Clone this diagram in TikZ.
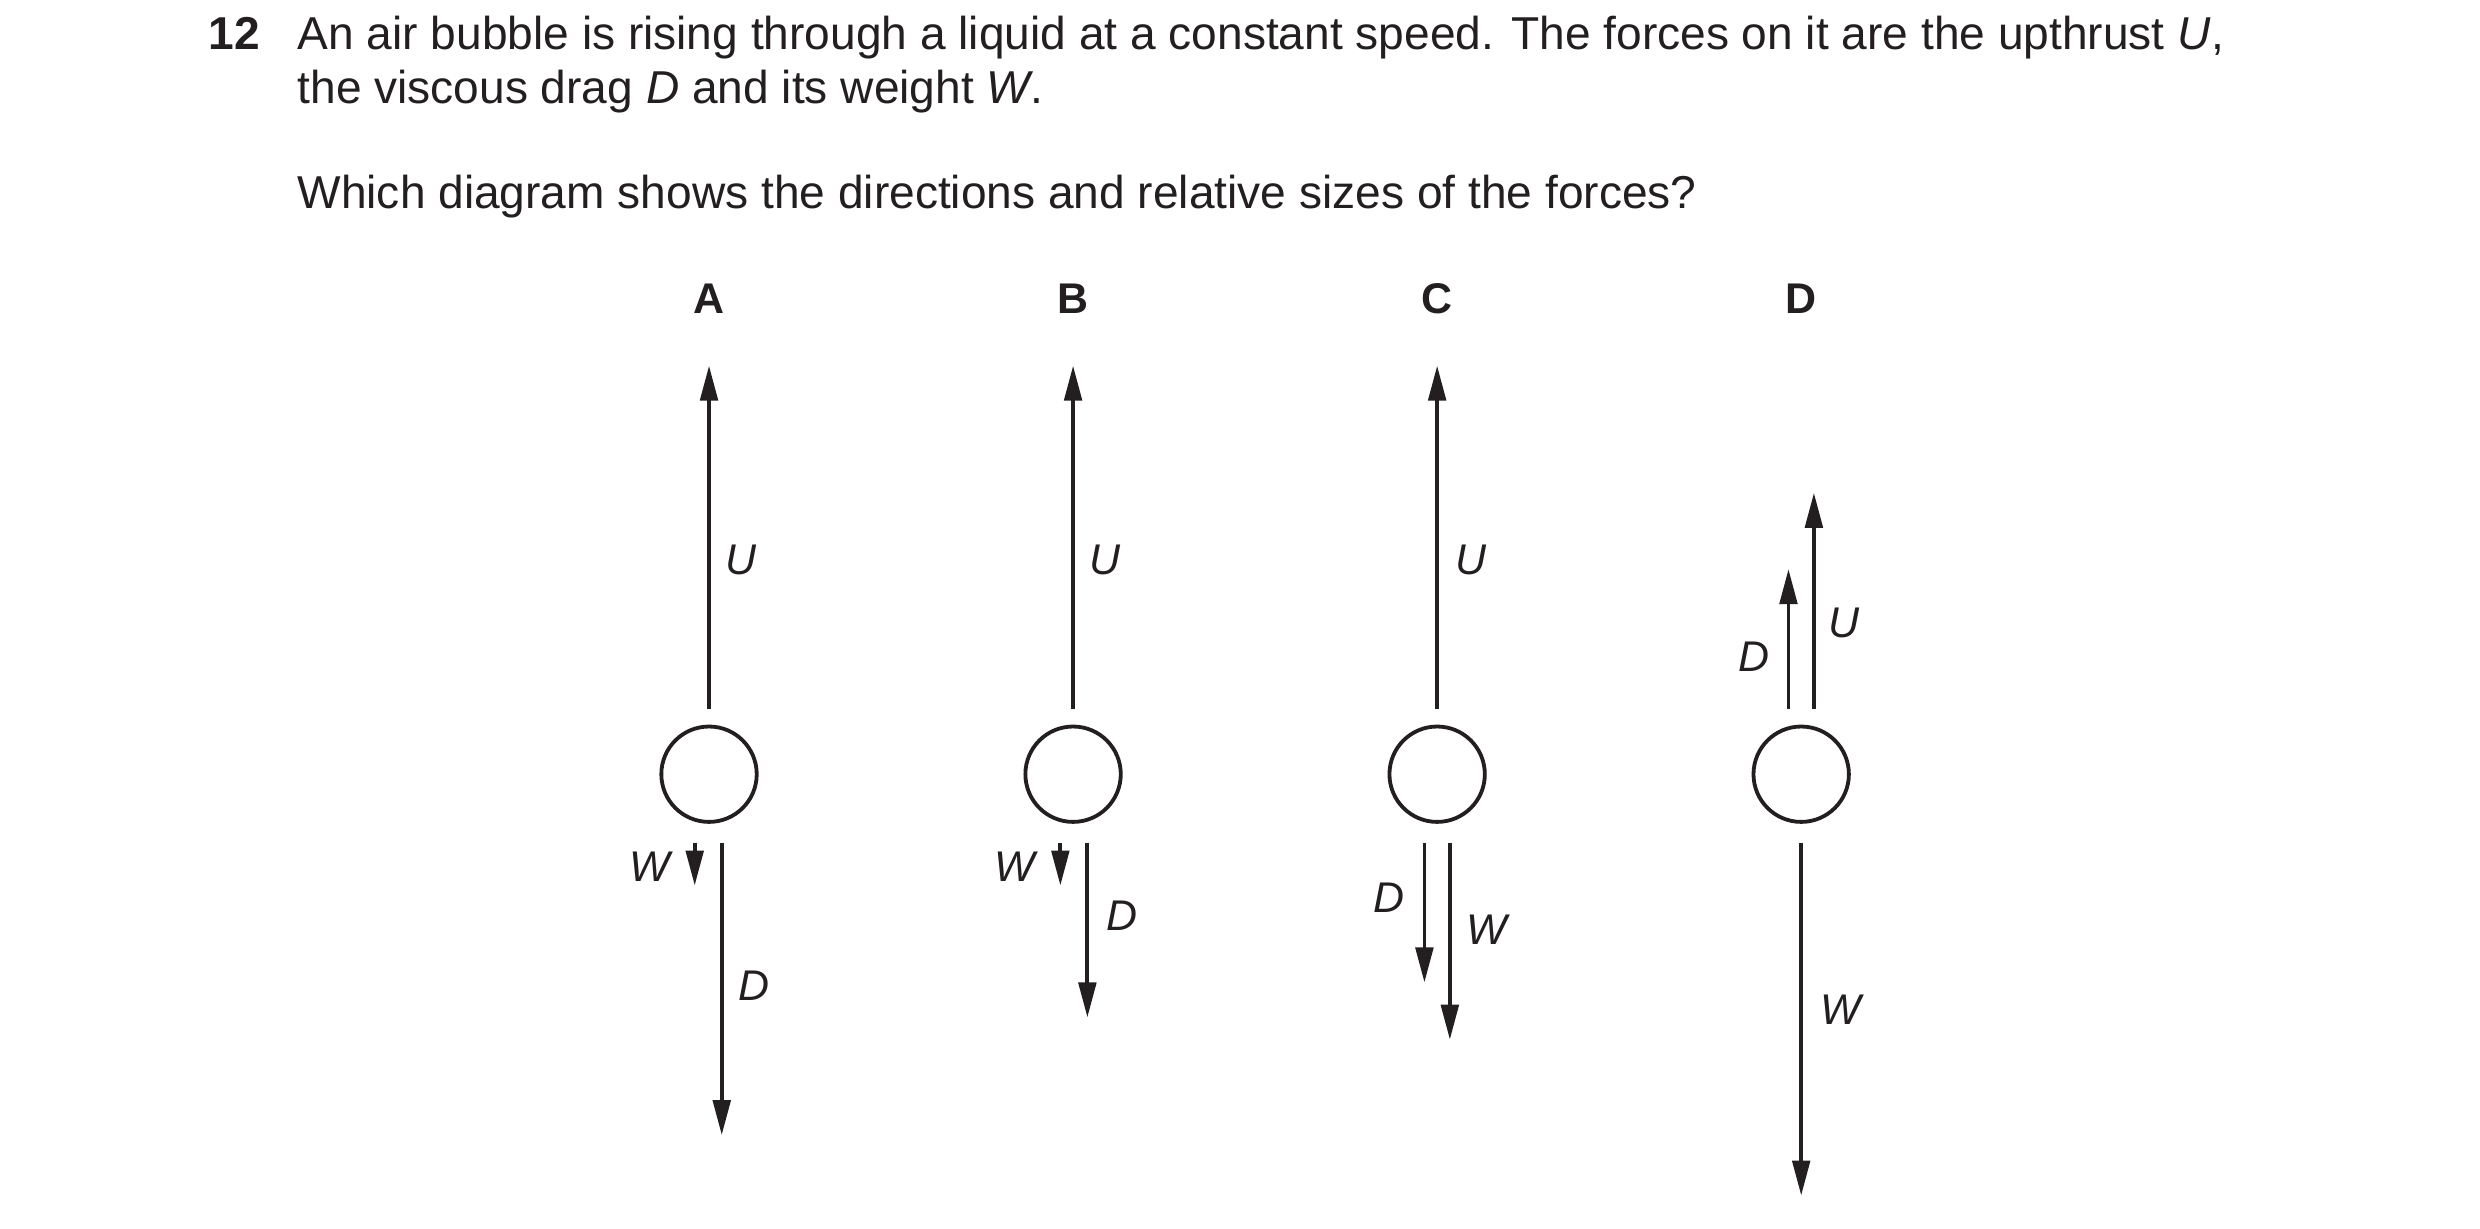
\documentclass[tikz,border=0pt]{standalone}
\usepackage{fontspec}
\setmainfont{Liberation Sans}
\usetikzlibrary{arrows.meta}
\definecolor{ink}{HTML}{231F20}
\begin{document}
\begin{tikzpicture}[x=1pt,y=-1pt,color=ink,
  txt/.style={anchor=base west,inner sep=0pt,font=\fontsize{29}{35}\selectfont},
  lab/.style={inner sep=0pt,font=\fontsize{27}{32}\selectfont\itshape},
  head/.style={inner sep=0pt,font=\fontsize{27}{32}\selectfont\bfseries},
  force/.style={line width=2.4pt,-{Triangle[length=22pt,width=11pt]}},
  bub/.style={circle,draw,line width=2.4pt,minimum size=60pt,inner sep=0pt}]
\useasboundingbox (0,0) rectangle (1560,773);
\node[txt,font=\fontsize{29}{35}\selectfont\bfseries] (n) at (131,31) {12};
\node[txt] (t1) at (187,31) {An air bubble is rising through a liquid at a constant speed. The forces on it are the upthrust \textit{U},};
\node[txt] (t2) at (187,65) {the viscous drag \textit{D} and its weight \textit{W}.};
\node[txt] (t3) at (187,131) {Which diagram shows the directions and relative sizes of the forces?};
\foreach \n/\x in {A/446,B/675,C/904,D/1133}{
  \node[head] (h\n) at (\x,188) {\n};
  \node[bub] (b\n) at (\x,487) {};
}
% A
\coordinate (aU0) at (446,446); \coordinate (aU1) at (446,230);
\draw[force] (aU0) -- (aU1); \node[lab] (aUl) at (466,352) {U};
\coordinate (aW0) at (437,530); \coordinate (aW1) at (437,557);
\draw[force] (aW0) -- (aW1); \node[lab] (aWl) at (409,545) {W};
\coordinate (aD0) at (454,530); \coordinate (aD1) at (454,714);
\draw[force] (aD0) -- (aD1); \node[lab] (aDl) at (474,620) {D};
% B
\coordinate (bU0) at (675,446); \coordinate (bU1) at (675,230);
\draw[force] (bU0) -- (bU1); \node[lab] (bUl) at (695,352) {U};
\coordinate (bW0) at (667,530); \coordinate (bW1) at (667,557);
\draw[force] (bW0) -- (bW1); \node[lab] (bWl) at (638,545) {W};
\coordinate (bD0) at (684,530); \coordinate (bD1) at (684,640);
\draw[force] (bD0) -- (bD1); \node[lab] (bDl) at (706,576) {D};
% C
\coordinate (cU0) at (904,446); \coordinate (cU1) at (904,230);
\draw[force] (cU0) -- (cU1); \node[lab] (cUl) at (925,352) {U};
\coordinate (cD0) at (896,530); \coordinate (cD1) at (896,618);
\draw[force] (cD0) -- (cD1); \node[lab] (cDl) at (874,565) {D};
\coordinate (cW0) at (912,530); \coordinate (cW1) at (912,654);
\draw[force] (cW0) -- (cW1); \node[lab] (cWl) at (935,585) {W};
% D
\coordinate (dD0) at (1125,446); \coordinate (dD1) at (1125,358);
\draw[force] (dD0) -- (dD1); \node[lab] (dDl) at (1103,413) {D};
\coordinate (dU0) at (1141,446); \coordinate (dU1) at (1141,310);
\draw[force] (dU0) -- (dU1); \node[lab] (dUl) at (1160,392) {U};
\coordinate (dW0) at (1133,530); \coordinate (dW1) at (1133,752);
\draw[force] (dW0) -- (dW1); \node[lab] (dWl) at (1158,635) {W};
\end{tikzpicture}
\end{document}
